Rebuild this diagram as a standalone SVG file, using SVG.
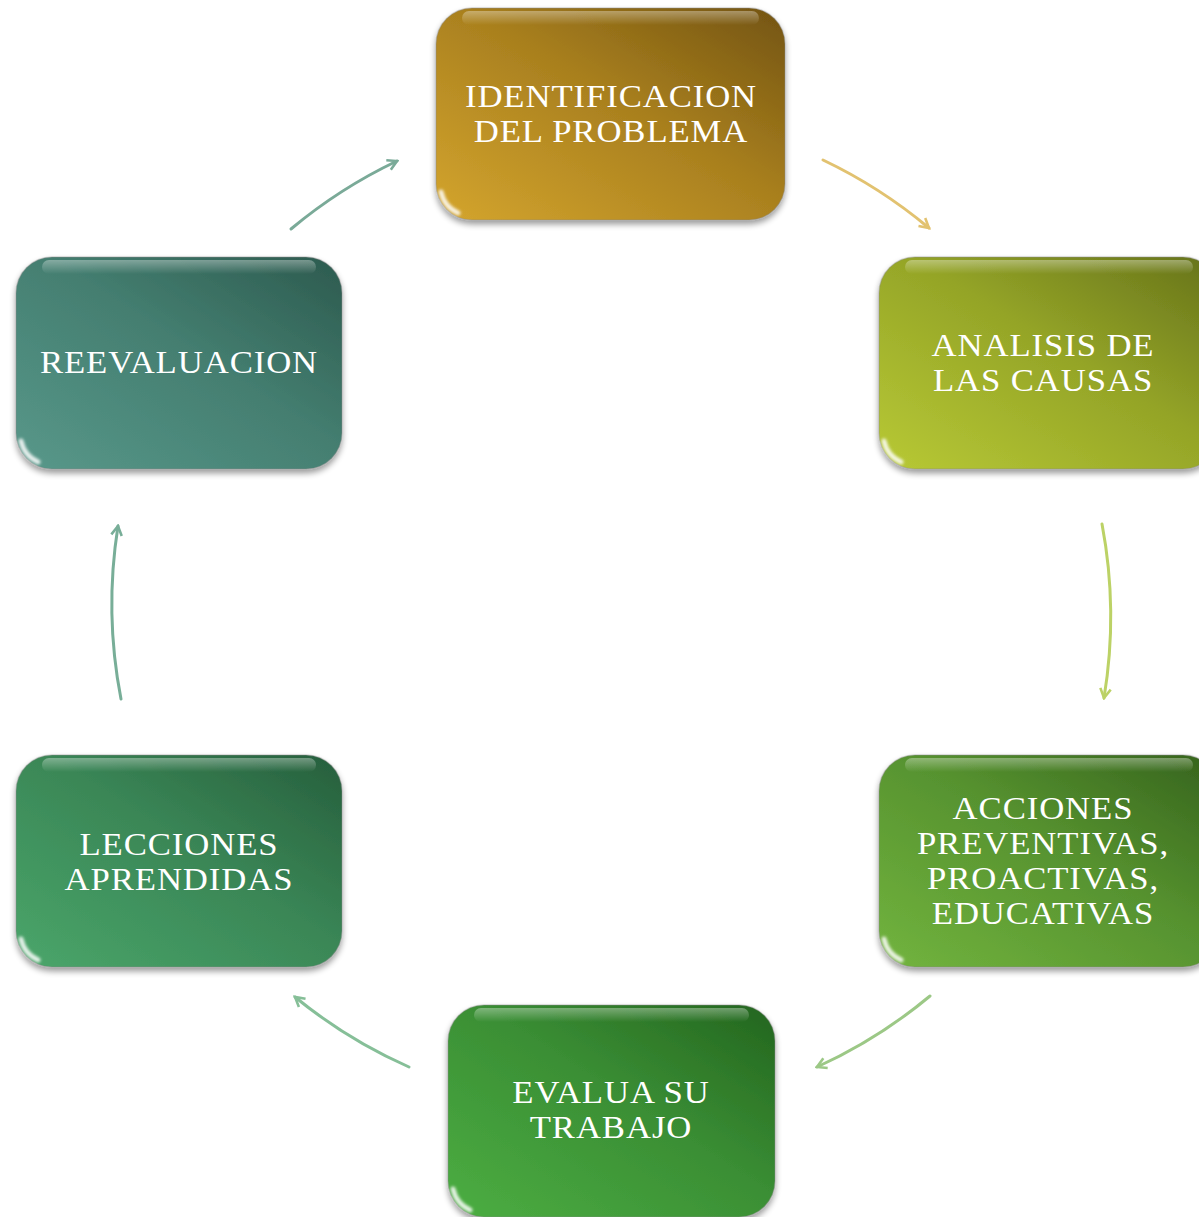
<svg xmlns="http://www.w3.org/2000/svg" width="1199" height="1217" viewBox="0 0 1199 1217">
<defs>
<linearGradient id="g1" x1="0" y1="1" x2="1" y2="0"><stop offset="0" stop-color="#d4a52e"/><stop offset="0.55" stop-color="#a87f1e"/><stop offset="1" stop-color="#735410"/></linearGradient>
<linearGradient id="g2" x1="0" y1="1" x2="1" y2="0"><stop offset="0" stop-color="#b8c935"/><stop offset="0.55" stop-color="#94a427"/><stop offset="1" stop-color="#65721a"/></linearGradient>
<linearGradient id="g3" x1="0" y1="1" x2="1" y2="0"><stop offset="0" stop-color="#72b43e"/><stop offset="0.55" stop-color="#56922f"/><stop offset="1" stop-color="#35621c"/></linearGradient>
<linearGradient id="g4" x1="0" y1="1" x2="1" y2="0"><stop offset="0" stop-color="#4cae42"/><stop offset="0.55" stop-color="#3a8e34"/><stop offset="1" stop-color="#23651e"/></linearGradient>
<linearGradient id="g5" x1="0" y1="1" x2="1" y2="0"><stop offset="0" stop-color="#4aa66a"/><stop offset="0.55" stop-color="#3a8656"/><stop offset="1" stop-color="#265e3c"/></linearGradient>
<linearGradient id="g6" x1="0" y1="1" x2="1" y2="0"><stop offset="0" stop-color="#58988a"/><stop offset="0.55" stop-color="#447e70"/><stop offset="1" stop-color="#2c5a4e"/></linearGradient>
<linearGradient id="hl" x1="0" y1="0" x2="0" y2="1"><stop offset="0" stop-color="#fff" stop-opacity="0.35"/><stop offset="1" stop-color="#fff" stop-opacity="0"/></linearGradient>
<filter id="sh" x="-10%" y="-10%" width="120%" height="130%"><feGaussianBlur in="SourceAlpha" stdDeviation="3"/><feOffset dx="0" dy="4"/><feComponentTransfer><feFuncA type="linear" slope="0.4"/></feComponentTransfer><feMerge><feMergeNode/><feMergeNode in="SourceGraphic"/></feMerge></filter>
<filter id="bl" x="-50%" y="-50%" width="200%" height="200%"><feGaussianBlur stdDeviation="1.5"/></filter>
<marker id="a1" viewBox="0 0 12 12" refX="10" refY="6" markerWidth="14" markerHeight="14" orient="auto" markerUnits="userSpaceOnUse"><path d="M2,1.5 L10,6 L2,10.5" fill="none" stroke="#7aaa98" stroke-width="2.2"/></marker>
<marker id="a2" viewBox="0 0 12 12" refX="10" refY="6" markerWidth="14" markerHeight="14" orient="auto" markerUnits="userSpaceOnUse"><path d="M2,1.5 L10,6 L2,10.5" fill="none" stroke="#e2c270" stroke-width="2.2"/></marker>
<marker id="a3" viewBox="0 0 12 12" refX="10" refY="6" markerWidth="14" markerHeight="14" orient="auto" markerUnits="userSpaceOnUse"><path d="M2,1.5 L10,6 L2,10.5" fill="none" stroke="#bcd266" stroke-width="2.2"/></marker>
<marker id="a4" viewBox="0 0 12 12" refX="10" refY="6" markerWidth="14" markerHeight="14" orient="auto" markerUnits="userSpaceOnUse"><path d="M2,1.5 L10,6 L2,10.5" fill="none" stroke="#9cc886" stroke-width="2.2"/></marker>
<marker id="a5" viewBox="0 0 12 12" refX="10" refY="6" markerWidth="14" markerHeight="14" orient="auto" markerUnits="userSpaceOnUse"><path d="M2,1.5 L10,6 L2,10.5" fill="none" stroke="#86bf98" stroke-width="2.2"/></marker>
<marker id="a6" viewBox="0 0 12 12" refX="10" refY="6" markerWidth="14" markerHeight="14" orient="auto" markerUnits="userSpaceOnUse"><path d="M2,1.5 L10,6 L2,10.5" fill="none" stroke="#78ae98" stroke-width="2.2"/></marker>
</defs>
<style>
.box{stroke:#8a8a8a;stroke-opacity:0.35;stroke-width:1.5}
.hl{fill:url(#hl)}
.cn{fill:none;stroke:#ffffff;stroke-opacity:0.85;stroke-width:5;stroke-linecap:round}
.t{font-family:"Liberation Serif","DejaVu Serif",serif;font-size:31px;letter-spacing:0.8px;fill:#ffffff;text-anchor:middle}
.c{fill:none;stroke-width:3;stroke-linecap:round}
</style>
<rect width="1199" height="1217" fill="#ffffff"/>
<g id="connectors">
<path class="c" d="M291,229 A498,498 0 0 1 397,161" stroke="#7aaa98" marker-end="url(#a1)"/>
<path class="c" d="M823,160 A498,498 0 0 1 929,228" stroke="#e2c270" marker-end="url(#a2)"/>
<path class="c" d="M1102,524 A498,498 0 0 1 1104,698" stroke="#bcd266" marker-end="url(#a3)"/>
<path class="c" d="M930,996 A498,498 0 0 1 817,1067" stroke="#9cc886" marker-end="url(#a4)"/>
<path class="c" d="M409,1067 A498,498 0 0 1 295,997" stroke="#86bf98" marker-end="url(#a5)"/>
<path class="c" d="M121,699 A498,498 0 0 1 118,526" stroke="#78ae98" marker-end="url(#a6)"/>
</g>
<g id="n1">
<rect class="box" x="436" y="8" width="349" height="212" rx="36" fill="url(#g1)" filter="url(#sh)"/>
<rect class="hl" x="462" y="11" width="297" height="14" rx="7"/>
<path class="cn" filter="url(#bl)" d="M441,192 A30,30 0 0 0 458,213"/>
<text class="t" transform="translate(611 107) scale(1.12 1)">IDENTIFICACION</text>
<text class="t" transform="translate(611 142) scale(1.12 1)">DEL PROBLEMA</text>
</g>
<g id="n2">
<rect class="box" x="879" y="257" width="340" height="212" rx="36" fill="url(#g2)" filter="url(#sh)"/>
<rect class="hl" x="905" y="260" width="288" height="14" rx="7"/>
<path class="cn" filter="url(#bl)" d="M884,441 A30,30 0 0 0 901,462"/>
<text class="t" transform="translate(1043 356) scale(1.12 1)">ANALISIS DE</text>
<text class="t" transform="translate(1043 391) scale(1.12 1)">LAS CAUSAS</text>
</g>
<g id="n3">
<rect class="box" x="879" y="755" width="340" height="212" rx="36" fill="url(#g3)" filter="url(#sh)"/>
<rect class="hl" x="905" y="758" width="288" height="14" rx="7"/>
<path class="cn" filter="url(#bl)" d="M884,939 A30,30 0 0 0 901,960"/>
<text class="t" transform="translate(1043 819) scale(1.12 1)">ACCIONES</text>
<text class="t" transform="translate(1043 854) scale(1.12 1)">PREVENTIVAS,</text>
<text class="t" transform="translate(1043 889) scale(1.12 1)">PROACTIVAS,</text>
<text class="t" transform="translate(1043 924) scale(1.12 1)">EDUCATIVAS</text>
</g>
<g id="n4">
<rect class="box" x="448" y="1005" width="327" height="212" rx="36" fill="url(#g4)" filter="url(#sh)"/>
<rect class="hl" x="474" y="1008" width="275" height="14" rx="7"/>
<path class="cn" filter="url(#bl)" d="M453,1189 A30,30 0 0 0 470,1210"/>
<text class="t" transform="translate(611 1103) scale(1.12 1)">EVALUA SU</text>
<text class="t" transform="translate(611 1138) scale(1.12 1)">TRABAJO</text>
</g>
<g id="n5">
<rect class="box" x="16" y="755" width="326" height="212" rx="36" fill="url(#g5)" filter="url(#sh)"/>
<rect class="hl" x="42" y="758" width="274" height="14" rx="7"/>
<path class="cn" filter="url(#bl)" d="M21,939 A30,30 0 0 0 38,960"/>
<text class="t" transform="translate(179 855) scale(1.12 1)">LECCIONES</text>
<text class="t" transform="translate(179 890) scale(1.12 1)">APRENDIDAS</text>
</g>
<g id="n6">
<rect class="box" x="16" y="257" width="326" height="212" rx="36" fill="url(#g6)" filter="url(#sh)"/>
<rect class="hl" x="42" y="260" width="274" height="14" rx="7"/>
<path class="cn" filter="url(#bl)" d="M21,441 A30,30 0 0 0 38,462"/>
<text class="t" transform="translate(179 373) scale(1.12 1)">REEVALUACION</text>
</g>
</svg>
